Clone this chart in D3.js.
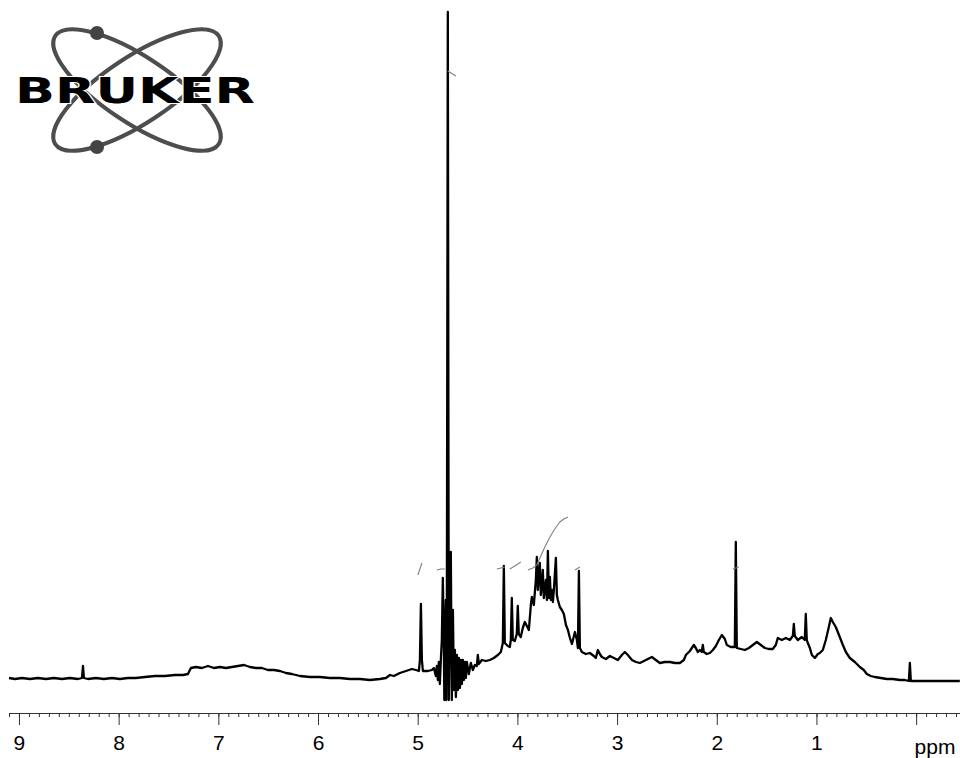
<!DOCTYPE html>
<html>
<head>
<meta charset="utf-8">
<script src="https://cdn.jsdelivr.net/npm/d3@7"></script>
<style>
  html, body { margin: 0; padding: 0; background: #fff; }
  svg { display: block; }
</style>
</head>
<body>
<div id="chart"></div>
<script>
// 1H spectrum, chemical shift (ppm) and intensity (arbitrary units)
const shift = [
  9.100, 9.040, 8.970, 8.890, 8.810, 8.729, 8.649, 8.569, 8.489, 8.408, 8.368, 8.358, 8.348, 8.308, 8.228, 8.148,
  8.067, 7.987, 7.907, 7.827, 7.736, 7.636, 7.536, 7.435, 7.355, 7.305, 7.275, 7.225, 7.165, 7.104, 7.044, 6.984,
  6.924, 6.864, 6.803, 6.743, 6.683, 6.623, 6.563, 6.503, 6.442, 6.382, 6.322, 6.262, 6.182, 6.081, 5.981, 5.881,
  5.780, 5.680, 5.580, 5.480, 5.379, 5.319, 5.279, 5.239, 5.179, 5.118, 5.058, 5.018, 4.988, 4.978, 4.968, 4.958,
  4.948, 4.898, 4.858, 4.838, 4.818, 4.808, 4.798, 4.788, 4.778, 4.768, 4.758, 4.748, 4.738, 4.733, 4.728, 4.718,
  4.713, 4.708, 4.698, 4.688, 4.678, 4.668, 4.658, 4.647, 4.637, 4.627, 4.617, 4.607, 4.597, 4.587, 4.577, 4.567,
  4.557, 4.547, 4.537, 4.527, 4.517, 4.507, 4.487, 4.467, 4.447, 4.427, 4.407, 4.397, 4.387, 4.357, 4.317, 4.276,
  4.236, 4.196, 4.166, 4.146, 4.136, 4.126, 4.096, 4.076, 4.066, 4.056, 4.046, 4.026, 4.006, 3.996, 3.986, 3.966,
  3.946, 3.925, 3.905, 3.885, 3.865, 3.855, 3.835, 3.815, 3.805, 3.795, 3.785, 3.775, 3.765, 3.755, 3.745, 3.735,
  3.725, 3.714, 3.704, 3.694, 3.684, 3.674, 3.664, 3.654, 3.644, 3.634, 3.614, 3.604, 3.594, 3.574, 3.554, 3.534,
  3.513, 3.493, 3.473, 3.453, 3.433, 3.423, 3.403, 3.393, 3.383, 3.373, 3.353, 3.313, 3.273, 3.233, 3.213, 3.193,
  3.173, 3.153, 3.112, 3.072, 3.032, 2.992, 2.952, 2.922, 2.892, 2.851, 2.811, 2.771, 2.711, 2.651, 2.611, 2.571,
  2.521, 2.470, 2.420, 2.370, 2.330, 2.310, 2.270, 2.230, 2.210, 2.190, 2.170, 2.150, 2.140, 2.130, 2.100, 2.069,
  2.039, 2.009, 1.979, 1.949, 1.919, 1.899, 1.859, 1.819, 1.809, 1.799, 1.759, 1.718, 1.678, 1.638, 1.598, 1.558,
  1.518, 1.478, 1.438, 1.408, 1.388, 1.347, 1.307, 1.267, 1.237, 1.227, 1.217, 1.187, 1.147, 1.117, 1.107, 1.097,
  1.087, 1.066, 1.046, 1.016, 0.986, 0.966, 0.936, 0.906, 0.876, 0.856, 0.836, 0.806, 0.766, 0.735, 0.705, 0.665,
  0.615, 0.565, 0.525, 0.495, 0.455, 0.415, 0.354, 0.294, 0.234, 0.163, 0.113, 0.073, 0.063, 0.053, 0.003, -0.077,
  -0.158, -0.238, -0.318, -0.398, -0.438
];
const intensity = [
  1, 0, 1, 0, 1, 0, 1, 0, 1, 0, 1, 13, 1, 0, 1, 0,
  1, 0, 1, 1, 2, 3, 3, 4, 4, 5, 11, 12, 11, 13, 11, 12,
  11, 12, 13, 14, 12, 11, 11, 9, 9, 8, 6, 5, 3, 2, 2, 1,
  1, 0, 0, -1, 0, 1, 4, 3, 6, 8, 10, 9, 8, 19, 75, 19,
  8, 8, 9, 11, 3, 13, -1, 17, -5, 19, 39, 101, 39, -21, 19, 79,
  -21, 39, 667, -21, 59, 127, -21, 69, -11, 29, -18, 24, -11, 21, -9, 19,
  -5, 19, -1, 17, 1, 17, 5, 16, 9, 14, 13, 24, 15, 19, 18, 19,
  21, 24, 27, 36, 113, 36, 33, 32, 39, 81, 39, 38, 45, 73, 45, 42,
  51, 57, 53, 49, 74, 82, 74, 99, 122, 89, 104, 116, 84, 94, 109, 81,
  89, 99, 79, 128, 81, 102, 79, 89, 77, 89, 121, 84, 79, 72, 69, 65,
  54, 49, 41, 35, 43, 47, 39, 31, 108, 31, 27, 25, 26, 23, 21, 29,
  25, 22, 20, 23, 21, 19, 24, 27, 24, 19, 17, 16, 19, 22, 19, 16,
  17, 17, 16, 16, 19, 24, 28, 34, 31, 27, 29, 27, 34, 27, 25, 26,
  29, 33, 39, 44, 40, 34, 32, 32, 137, 31, 30, 29, 31, 34, 37, 34,
  31, 30, 30, 34, 41, 39, 41, 39, 43, 55, 43, 39, 42, 39, 65, 39,
  36, 31, 24, 21, 25, 26, 29, 39, 52, 61, 57, 52, 42, 34, 27, 21,
  17, 12, 9, 5, 3, 2, 1, 0, 0, -1, -1, -2, 16, -2, -2, -2,
  -2, -2, -2, -2, -2
];

// integral traces (ppm, intensity)
const integrals = [
  { shift: [4.998, 4.958], value: [104, 116] },
  { shift: [4.808, 4.768, 4.728], value: [109, 110, 110] },
  { shift: [4.698, 4.617], value: [608, 603] },
  { shift: [4.206, 4.126], value: [110, 112] },
  { shift: [4.076, 4.026, 3.966], value: [110, 113, 117] },
  { shift: [3.895, 3.845, 3.805, 3.765, 3.725, 3.684, 3.644, 3.604, 3.574, 3.534, 3.493],
    value: [109, 111, 114, 123, 132, 140, 147, 153, 157, 160, 162] },
  { shift: [3.423, 3.373], value: [109, 112] },
  { shift: [1.839, 1.779], value: [110, 112] }
];

const majorTicks = [9, 8, 7, 6, 5, 4, 3, 2, 1, 0];
const tickLabels = ['9', '8', '7', '6', '5', '4', '3', '2', '1', ''];

const width = 960, height = 758;
const axisY = 713;

const svg = d3.select('#chart').append('svg')
  .attr('width', width)
  .attr('height', height);

const x = d3.scaleLinear().domain([9.1, -0.44]).range([9, 960]);
const y = d3.scaleLinear().domain([0, 667]).range([679, 12]);

// logo
const logo = svg.append('g').attr('class', 'logo');
[33.5, -33.5].forEach((a) => {
  logo.append('ellipse')
    .attr('cx', 0).attr('cy', 0).attr('rx', 98).attr('ry', 33)
    .attr('transform', `translate(137,90) rotate(${a})`)
    .attr('fill', 'none')
    .attr('stroke', '#4d4d4d')
    .attr('stroke-width', 4);
});
[[97, 33], [97, 147]].forEach(([cx, cy]) => {
  logo.append('circle').attr('cx', cx).attr('cy', cy).attr('r', 7).attr('fill', '#444');
});
logo.append('text')
  .attr('x', 15).attr('y', 103)
  .attr('textLength', 240)
  .attr('lengthAdjust', 'spacingAndGlyphs')
  .style('font-family', '"DejaVu Sans", sans-serif')
  .style('font-weight', 'bold')
  .style('font-size', '36px')
  .attr('fill', '#000')
  .attr('stroke', '#fff')
  .attr('stroke-width', 2)
  .attr('paint-order', 'stroke')
  .text('BRUKER');

// spectrum
const data = shift.map((s, i) => ({ s, v: intensity[i] }));
const line = d3.line().x((d) => x(d.s)).y((d) => y(d.v));

svg.append('path')
  .datum(data)
  .attr('d', line)
  .attr('fill', 'none')
  .attr('stroke', '#000')
  .attr('stroke-width', 2.3)
  .attr('stroke-linejoin', 'round');

// integrals
integrals.forEach((seg) => {
  svg.append('path')
    .datum(seg.shift.map((s, i) => ({ s, v: seg.value[i] })))
    .attr('d', line)
    .attr('fill', 'none')
    .attr('stroke', '#808080')
    .attr('stroke-width', 1.1);
});

// axis
const minorAxis = d3.axisBottom(x)
  .tickValues(d3.range(-4, 92).map((k) => k / 10))
  .tickSize(4)
  .tickSizeOuter(0)
  .tickFormat('');
svg.append('g')
  .attr('transform', `translate(0,${axisY})`)
  .call(minorAxis)
  .call((g) => g.selectAll('line,path').attr('stroke', '#333'));

const majorAxis = d3.axisBottom(x)
  .tickValues(majorTicks)
  .tickSize(12)
  .tickSizeOuter(0)
  .tickFormat((d, i) => tickLabels[i]);
svg.append('g')
  .attr('transform', `translate(0,${axisY})`)
  .call(majorAxis)
  .call((g) => g.select('.domain').remove())
  .call((g) => g.selectAll('line').attr('stroke', '#333'))
  .call((g) => g.selectAll('text')
    .attr('y', 37)
    .attr('dy', null)
    .attr('fill', '#000')
    .style('font-family', '"Liberation Sans", Arial, sans-serif')
    .style('font-size', '21px'));

svg.append('text')
  .attr('x', 935).attr('y', 754)
  .attr('text-anchor', 'middle')
  .style('font-family', '"Liberation Sans", Arial, sans-serif')
  .style('font-size', '21px')
  .text('ppm');
</script>
</body>
</html>
